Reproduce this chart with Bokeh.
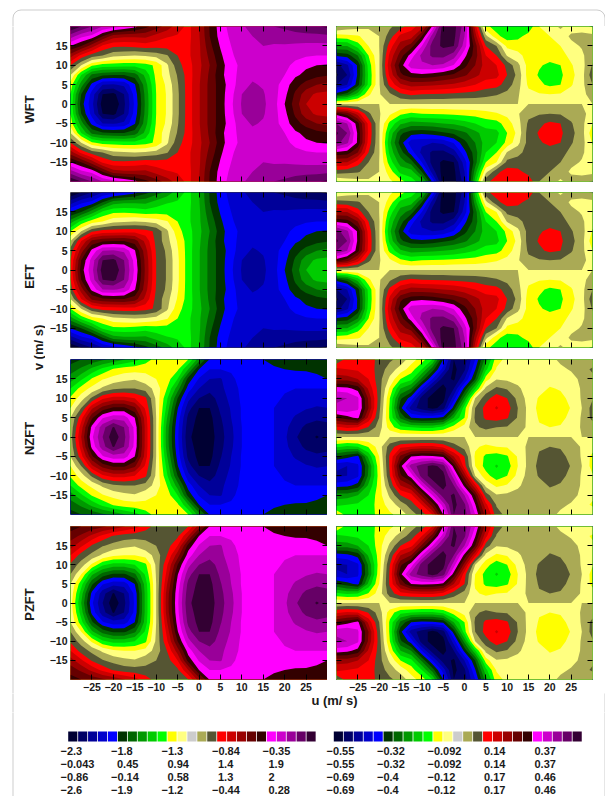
from bokeh.plotting import figure
from bokeh.layouts import column, row
from bokeh.models import Range1d, LinearAxis, FixedTicker, BoxAnnotation
from bokeh.core.properties import value
from bokeh.embed import file_html
from bokeh.resources import INLINE
import numpy as np

U = np.arange(-30, 30.01, 2.5)
V_HALF = np.arange(0, 20.01, 2.5)

# contour-class position, rows v = 0, 2.5 ... 20, columns u = -30 ... 30
WFT_LEFT = [
[9.8,5.5,3.3,0.5,0.1,1.8,4.2,7.2,10,11.1,12.8,14.5,15.9,17.3,18.5,19.8,21.1,21.5,21.2,20.4,19,17.5,16,15.4,15.3],
[10,6,3.6,1.0,0.7,2.0,4.4,7.3,10,11.1,12.8,14.5,15.9,17.3,18.5,19.7,21,21.4,21.1,20.4,19.3,17.8,16.4,15.8,15.7],
[10.5,7.5,4.7,3,2.9,3.2,4.9,7.6,10.1,11.2,12.9,14.5,15.9,17.3,18.5,19.5,20.7,21.1,20.9,20.4,19.5,18.4,17.6,17,16.7],
[12,9,6.8,6.2,6,6,6.5,8.3,10.3,11.6,13.1,14.5,15.8,17.2,18.7,19.6,20.4,20.8,20.9,20.6,20,19.2,18.7,18.3,18.1],
[14,12,10.2,9.6,9.5,9.4,9.4,9.6,10.2,11.8,13.6,14.6,15.7,17,18.5,19.7,20.2,20.6,20.9,20.8,20.3,19.7,19.2,19,18.9],
[16.5,14.7,13.5,13,12.3,12.1,12,12.1,12.4,12.9,14,14.8,15.8,17.3,18.8,19.9,20.3,20.7,21,20.9,20.6,20.3,20.1,20,20],
[19,18,16.5,14.8,14.2,14.2,14.3,14.5,14.4,14.4,14.6,14.8,15.8,17.7,19.1,20,20.5,20.8,21,20.9,20.9,20.8,20.7,20.7,20.7],
[21.5,20.3,19.7,18,16.5,16.2,16.2,16.3,15.6,15.1,14.9,14.7,15.9,18,19.4,20.2,20.6,21,21.3,21.4,21.5,21.6,21.7,21.7,21.8],
[24,23,22,21,20.5,20,19.3,18.3,17.5,16.6,15.5,14.7,16,18.1,19.5,20.4,20.8,21.5,21.8,22,22.2,22.5,22.7,22.9,23.2],
]
WFT_RIGHT = [
[12]*25,
[5.5,6.5,8.5,10.8,11.9,12.8,13.8,14.2,14,13.9,13.9,13.8,13.7,13.6,13.4,13.1,12.7,12.1,11.3,11.1,11,11.1,11.4,11.8,12.3],
[2,3,5.6,9.3,11.9,14.3,15.8,16.4,16.3,16.2,16,15.8,15.4,15,14.5,14.4,13.5,12.4,10.8,10.2,9.8,10,10.9,11.7,13],
[0.8,2,5.2,9.2,11.9,15.3,17.8,18.6,18.8,18.6,18.2,17.8,17.2,16.3,15.5,15.3,14,12.7,10.5,9.9,9.4,9.8,10.7,11.6,13.6],
[1.6,2.8,5.2,9.4,11.9,15.8,18.5,20.6,20.8,21,20.8,19.9,18.3,17,15.5,15,13.7,12.3,10.6,10.1,9.8,10,10.9,11.6,13.1],
[5.2,5.5,7,10,11.9,15.3,17.5,19.5,21.3,22.2,22.3,21.5,19.3,17.5,15,14,11.9,11.3,10.6,10.4,10.4,10.6,11.3,11.8,12.7],
[8,8,9.5,11,12,14.5,16.5,17.5,20,22.5,23.2,23,20.5,17.5,14,13,10.7,10.6,10.4,10.6,10.8,11,11.7,12.1,12.5],
[10.5,10.7,10.9,11.4,12,13.5,15.3,15.5,18,21.5,23.5,23.3,21,16.5,12.3,10.3,9.5,9.7,10.4,10.8,11,11.4,12.2,12.5,12.3],
[13,12.6,12.4,12.2,12.1,12.8,13.6,14.6,15.5,19.2,23.6,23.4,21.5,15.5,10.3,9.5,9,9.2,9.3,11,11.5,12.2,11.5,11.2,10.9],
]
NZFT_LEFT = [
[12.5,16,19.8,22,23.7,22.3,19.8,15.7,12,7.5,4.2,1.2,0.5,0.5,1.6,2.7,4,4.4,4.4,4,3.2,2.1,1.5,0.9,1.4],
[12.3,15.5,19.3,21.6,23.1,22,19.7,15.7,12,7.6,4.3,1.4,0.6,0.6,1.7,2.8,4,4.4,4.4,4,3.3,2.4,1.8,1.5,1.7],
[12,14.6,17.8,19.9,20.6,20.5,19,15.5,12,8.1,4.6,1.7,0.7,0.7,1.9,3,4.1,4.5,4.4,4,3.4,2.9,2.4,2.2,2.3],
[11,13,15.8,17.4,18.2,18.2,17.2,14.8,11.9,8.7,5.1,2.4,1,1,2.2,3.1,4.1,4.5,4.5,4,3.6,3.3,3.1,2.9,3],
[10.2,11.5,13.2,14.8,15.4,15.4,15,14.2,11.8,9.2,6,3.3,2,1.5,2.5,3.3,4.2,4.6,4.6,4.2,3.9,3.7,3.6,3.5,3.5],
[9,10.4,11.3,12.2,12.8,13,13,12.6,11.6,10,7.5,4.5,3,2.4,2.8,3.4,4.3,4.7,4.7,4.5,4.1,4,4,4,4],
[7.5,8.8,10.1,10.9,11.4,11.7,11.9,11.4,11,10.5,9,5.6,3.9,3,2.9,3.7,4.5,4.8,4.8,4.7,4.6,4.5,4.6,4.8,5],
[6.5,7.2,8.3,9.3,10.1,10.5,10.6,10.7,10.8,10.7,10.2,8,5,4,4,4.2,4.5,4.7,4.8,4.9,5,5.1,5.1,5.2,5.3],
[5.5,6,6.3,6.8,7.3,7.9,8.6,9.5,10.4,10.7,10.8,10,7.5,4.9,4.6,4.5,4.6,4.8,5,5.2,5.3,5.5,5.6,5.6,5.5],
]
NZFT_RIGHT = [
[12]*25,
[14.8,15.2,15,13.9,12.5,10.5,9.3,9,8.8,8.8,9.3,10.5,11.4,12.8,13.3,13,12.9,12.5,11.8,11.1,11,11.1,11.5,12.1,12.5],
[18,18.6,19.3,15.7,13,9.8,6.8,5,4.7,4.8,5.2,8,10,13.2,14.2,14.5,14.1,12.9,11.7,10.9,10.6,10.7,11.3,12.1,13.3],
[20.8,21,20.2,17,13.3,9.8,5.3,2.5,1.5,0.6,1.5,5.5,9.6,13,14.4,15.1,14.5,13,11.7,10.7,10.5,10.6,11.05,12,13.4],
[21.2,21,20.2,16.8,13.5,10,6.2,4.5,1.5,0.6,0.6,3.5,7.4,12,13.6,14.6,14,12.7,11.6,10.9,10.6,10.7,11.3,12.1,12.9],
[19.5,19.3,18.6,15.8,13.5,10.8,8,7,4,1.5,0.6,2,5.3,8.8,12.3,13.2,12.9,12.2,11.5,11.4,10.9,11.1,11.5,12.1,12.6],
[16.5,16.5,16,15,13.4,11.8,10,9.3,6.8,4,1.5,0.8,3,6,10.5,11.9,11.8,11.6,11.5,11.5,11.4,11.5,11.7,12.2,12.7],
[15.3,15,14.8,14.5,13.6,12.5,11.6,10.5,9,6.5,3.5,0.7,1.8,4.9,8.7,11.1,11.5,11.5,11.5,11.6,11.6,11.8,12.1,12.5,13.2],
[13,14.5,14.6,14.3,13.8,13.2,12.6,11.5,10.5,9,5,1,1.5,4,7.5,10.6,11.3,11.5,11.5,11.6,11.7,12.2,12.4,12.4,12],
]

ROW_NAMES = ["WFT", "EFT", "NZFT", "PZFT"]
U_TICKS = [-25, -20, -15, -10, -5, 0, 5, 10, 15, 20, 25]
V_TICKS = [-15, -10, -5, 0, 5, 10, 15]

BAR_COLORS = ["#000033", "#000066", "#000099", "#0000cc", "#0000ff",
              "#003300", "#006600", "#009900", "#00cc00", "#00ff00",
              "#ffff00", "#ffff80", "#cccccc", "#aaaa55", "#555533",
              "#ff0000", "#cc0000", "#990000", "#660000", "#330000",
              "#ff00ff", "#cc00cc", "#990099", "#660066", "#330033"]
FILL_COLORS = [c for c in BAR_COLORS if c != "#cccccc"]
LEVELS = [-1] + list(range(1, 24))

LEFT_BAR_LABELS = [
    ["\u22122.3", "\u22121.8", "\u22121.3", "\u22120.84", "\u22120.35"],
    ["\u22120.043", "0.45", "0.94", "1.4", "1.9"],
    ["\u22120.86", "\u22120.14", "0.58", "1.3", "2"],
    ["\u22122.6", "\u22121.9", "\u22121.2", "\u22120.44", "0.28"],
]
RIGHT_BAR_LABELS = [
    ["\u22120.55", "\u22120.32", "\u22120.092", "0.14", "0.37"],
    ["\u22120.55", "\u22120.32", "\u22120.092", "0.14", "0.37"],
    ["\u22120.69", "\u22120.4", "\u22120.12", "0.17", "0.46"],
    ["\u22120.69", "\u22120.4", "\u22120.12", "0.17", "0.46"],
]

FONT = "Liberation Sans"
TEXT = "#1a1a1a"
EDGE = "#555555"


def symmetric(half):
    a = np.array(half, dtype=float)
    return np.vstack([a[:0:-1], a])


def antisymmetric(half):
    a = np.array(half, dtype=float)
    return np.vstack([24 - a[:0:-1], a])


PANELS = [
    (symmetric(WFT_LEFT), antisymmetric(WFT_RIGHT)),
    (24 - symmetric(WFT_LEFT), 24 - antisymmetric(WFT_RIGHT)),
    (symmetric(NZFT_LEFT), antisymmetric(NZFT_RIGHT)),
    (24 - symmetric(NZFT_LEFT), 24 - antisymmetric(NZFT_RIGHT)),
]
V = np.concatenate([-V_HALF[:0:-1], V_HALF])


def overlay(x0, x1, y0, y1):
    p = figure(width=x1 - x0, height=y1 - y0, x_range=Range1d(x0, x1), y_range=Range1d(y1, y0),
               output_backend="svg", toolbar_location=None, min_border=0)
    p.axis.visible = False
    p.grid.visible = False
    p.outline_line_color = None
    p.add_layout(BoxAnnotation(left=12.5, right=604.5, top=9.5, bottom=900, border_radius=8,
                               fill_color=None, line_color=EDGE, line_width=1))
    return p


def labels(p, xs, ys, texts, size, angle=0.0, align="center"):
    p.text(x=xs, y=ys, text=texts, angle=angle, text_font=value(FONT), text_font_style="bold",
           text_font_size=size, text_align=align, text_baseline="middle", text_color=TEXT)


def panel(z, width, height, b_left, b_right, b_bottom, show_v, show_u):
    p = figure(width=width, height=height, x_range=Range1d(-30, 30), y_range=Range1d(-20, 20),
               output_backend="svg", toolbar_location=None, min_border_left=b_left,
               min_border_right=b_right, min_border_top=0, min_border_bottom=b_bottom,
               x_axis_location=None, y_axis_location=None)
    p.grid.visible = False
    p.outline_line_color = EDGE
    p.outline_line_width = 1
    for k, lo in enumerate(LEVELS):
        p.contour(U, V, z, levels=[lo, 26], fill_color=[FILL_COLORS[k]], line_color=None)
    for side, ticks, shown in (("left", V_TICKS, show_v), ("right", V_TICKS, False),
                               ("below", U_TICKS, show_u), ("above", U_TICKS, False)):
        ax = LinearAxis(ticker=FixedTicker(ticks=ticks), major_tick_in=5, major_tick_out=0,
                        minor_tick_line_color=None, axis_line_color=None,
                        major_tick_line_color="#000000", major_label_standoff=3 if shown else 0,
                        major_label_text_font=FONT, major_label_text_font_style="bold",
                        major_label_text_font_size="10.5px", major_label_text_color=TEXT)
        if not shown:
            ax.major_label_overrides = {t: "" for t in ticks}
        p.add_layout(ax, side)
    return p


top = overlay(0, 605, 0, 26)

strip = overlay(0, 45, 26, 693)
labels(strip, [29, 29, 29, 29], [109, 276, 438, 604], ROW_NAMES, "13px", angle=np.pi / 2)
labels(strip, [38], [347], ["v (m/ s)"], "13px", angle=np.pi / 2)

heights = [166, 167, 167, 167]
bottoms = [11, 12, 12, 12]
rows = []
for i, (zl, zr) in enumerate(PANELS):
    last = i == 3
    pl = panel(zl, 282, heights[i], 25, 0, bottoms[i], True, last)
    pr = panel(zr, 278, heights[i], 9, 13, bottoms[i], False, last)
    rows.append(row(pl, pr))

ubar = overlay(0, 605, 693, 712)
labels(ubar, [334], [700], ["u (m/ s)"], "13px")

bar = overlay(0, 605, 712, 796)
for x0, step, table, base in ((67.7, 9.93, LEFT_BAR_LABELS, 60), (333.3, 9.95, RIGHT_BAR_LABELS, 326)):
    lefts = x0 + step * np.arange(len(BAR_COLORS))
    bar.quad(left=lefts, right=lefts + step - 0.8, top=731, bottom=741, fill_color=BAR_COLORS, line_color=None)
    for r, texts in enumerate(table):
        xs = [base + 50.5 * c + (0 if t.startswith("\u2212") else 6) for c, t in enumerate(texts)]
        labels(bar, xs, [750 + 13 * r] * len(texts), texts, "11px", align="left")

page = column(top, row(strip, column(*rows)), ubar, bar)
open("out.html", "w").write(file_html(page, INLINE))
